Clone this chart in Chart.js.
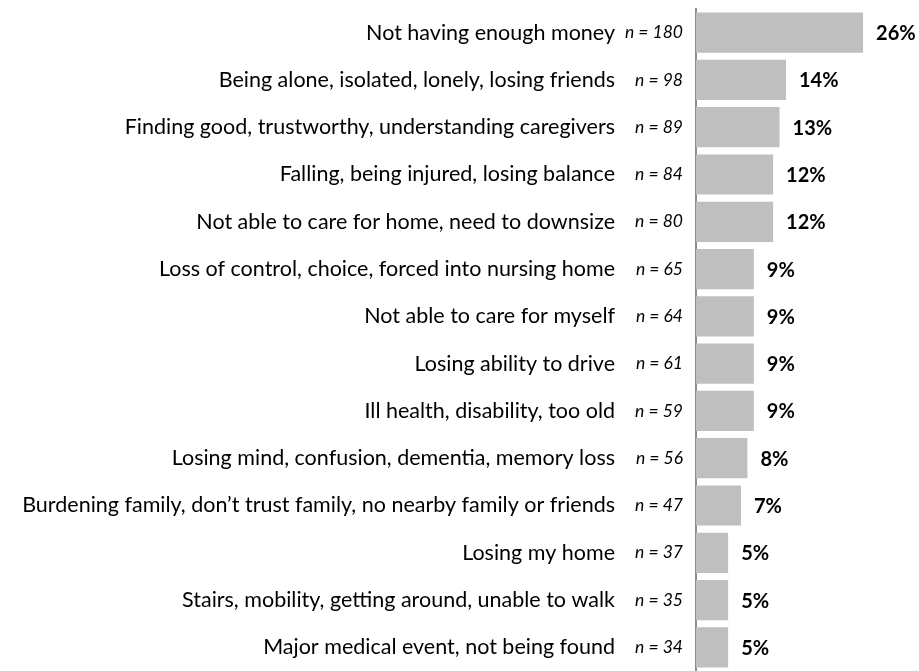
<!DOCTYPE html>
<html>

<head>
  <title>Biggest concerns about growing older</title>
  <script src="https://cdn.jsdelivr.net/npm/chart.js"></script>
  <style>
    body { margin: 0; background: #fff; }
    #wrap { width: 919px; height: 671px; }
  </style>
</head>

<body>
  <div id="wrap"><canvas id="concernsChart"></canvas></div>
  <script>
    var categories = [
      'Not having enough money',
      'Being alone, isolated, lonely, losing friends',
      'Finding good, trustworthy, understanding caregivers',
      'Falling, being injured, losing balance',
      'Not able to care for home, need to downsize',
      'Loss of control, choice, forced into nursing home',
      'Not able to care for myself',
      'Losing ability to drive',
      'Ill health, disability, too old',
      'Losing mind, confusion, dementia, memory loss',
      'Burdening family, don\u2019t trust family, no nearby family or friends',
      'Losing my home',
      'Stairs, mobility, getting around, unable to walk',
      'Major medical event, not being found'
    ];
    var counts = [180, 98, 89, 84, 80, 65, 64, 61, 59, 56, 47, 37, 35, 34];
    var percents = [26, 14, 13, 12, 12, 9, 9, 9, 9, 8, 7, 5, 5, 5];

    var countLabels = counts.map(n => 'n = ' + n);
    var FONT = 'Lato';

    // bold percentage next to the end of each bar
    var valueLabels = {
      id: 'valueLabels',
      afterDatasetsDraw(chart) {
        var ctx = chart.ctx;
        var meta = chart.getDatasetMeta(0);
        ctx.save();
        ctx.font = 'bold 20px ' + FONT;
        ctx.fillStyle = '#000';
        ctx.textBaseline = 'middle';
        meta.data.forEach((bar, i) => {
          ctx.fillText(percents[i] + '%', bar.x + 13, bar.y + 1);
        });
        ctx.restore();
      }
    };

    // fixed width, and no extra padding above/below the first and last label
    function fixAxis(width) {
      return function (scale) {
        scale.width = width;
        scale.paddingTop = 0;
        scale.paddingBottom = 0;
      };
    }

    var ctx = document.getElementById('concernsChart').getContext('2d');
    var chart = new Chart(ctx, {
      type: 'bar',
      data: {
        labels: countLabels,
        datasets: [{
          data: percents,
          backgroundColor: '#bfbfbf',
          borderWidth: 0,
          categoryPercentage: 1,
          barPercentage: 0.85
        }]
      },
      options: {
        indexAxis: 'y',
        responsive: true,
        maintainAspectRatio: false,
        animation: false,
        layout: { padding: { top: 9, right: 0, bottom: 0, left: 0 } },
        plugins: {
          legend: { display: false },
          tooltip: { enabled: false }
        },
        scales: {
          x: { display: false, min: 0, max: 34.7 },
          // inner axis: sample sizes in italics
          y: {
            type: 'category',
            labels: countLabels,
            position: 'left',
            weight: 0,
            offset: true,
            grid: { display: false, drawTicks: false },
            border: { display: true, color: '#8c8c8c', width: 2 },
            ticks: { color: '#000', padding: 13, font: { family: FONT, style: 'italic', size: 17.5 } },
            afterFit: fixAxis(71)
          },
          // outer axis: concern descriptions
          names: {
            type: 'category',
            labels: categories,
            position: 'left',
            weight: 1,
            offset: true,
            grid: { display: false, drawTicks: false },
            border: { display: false },
            ticks: { color: '#000', padding: 10, font: { family: FONT, size: 21.5 } },
            afterFit: fixAxis(625)
          }
        }
      },
      plugins: [valueLabels]
    });
  </script>
</body>

</html>
